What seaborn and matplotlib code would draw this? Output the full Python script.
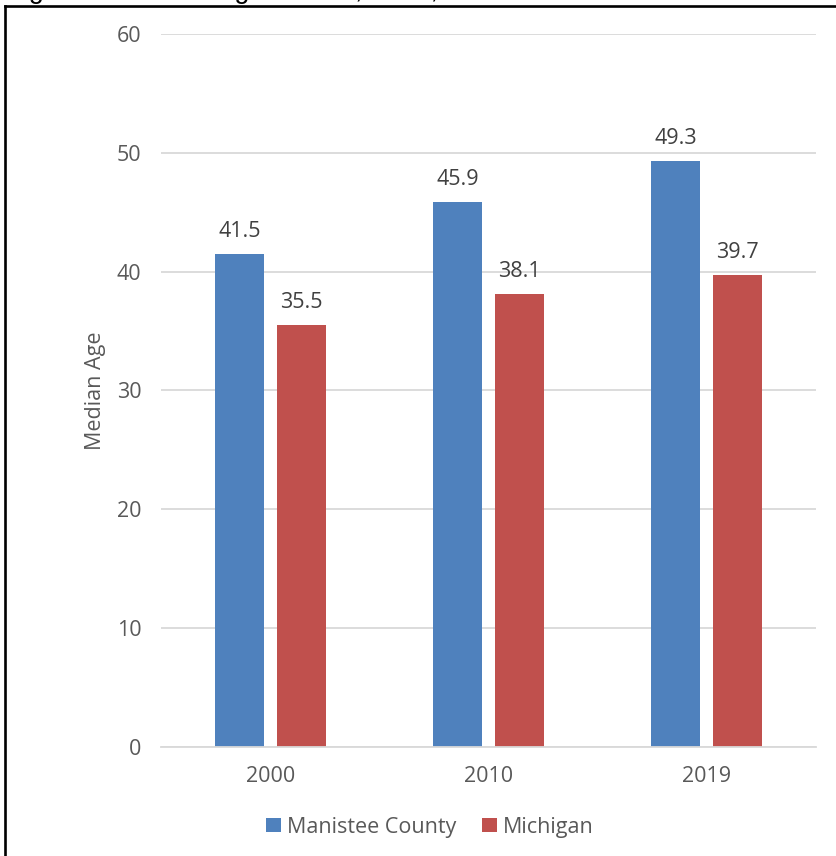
import matplotlib
matplotlib.use("Agg")
import matplotlib.pyplot as plt
from matplotlib.lines import Line2D
import seaborn as sns
import pandas as pd

# Median age by year
years = ["2000", "2010", "2019"]
manistee = [41.5, 45.9, 49.3]
michigan = [35.5, 38.1, 39.7]
series_names = ["Manistee County", "Michigan"]
y_ticks = [0, 10, 20, 30, 40, 50, 60]

df = pd.DataFrame({
    "Year": years * 2,
    "Area": [series_names[0]] * len(years) + [series_names[1]] * len(years),
    "Median Age": manistee + michigan,
})

sns.set_theme(style="white")
plt.rcParams["font.family"] = ["Open Sans", "DejaVu Sans"]

W, H = 837, 856
fig = plt.figure(figsize=(W / 100, H / 100), dpi=100)
ax = fig.add_axes([161.5 / W, 1 - 747 / H, 654.5 / W, 713 / H])

sns.barplot(
    data=df, x="Year", y="Median Age", hue="Area",
    order=years, hue_order=series_names,
    palette=["#4F81BD", "#C0504D"], saturation=1,
    width=0.568, gap=0.21, linewidth=0, ax=ax,
)

ax.set_ylim(0, 60)
ax.set_yticks(y_ticks)
ax.yaxis.grid(True, color="#D9D9D9", linewidth=1.3)
ax.set_axisbelow(True)
for side in ["top", "right", "left"]:
    ax.spines[side].set_visible(False)
ax.spines["bottom"].set_color("#D9D9D9")
ax.spines["bottom"].set_linewidth(1.3)

ax.tick_params(axis="x", length=0, pad=14, labelsize=15.5, labelcolor="#595959")
ax.tick_params(axis="y", length=0, pad=14.5, labelsize=15.5, labelcolor="#595959")
ax.set_xlabel("")
ax.set_ylabel("Median Age", fontsize=15.5, color="#595959", labelpad=8)

# Value labels above each bar
for container in ax.containers:
    ax.bar_label(container, fmt="%.1f", padding=8.5, fontsize=15.5, color="#404040")

handles, labels = ax.get_legend_handles_labels()
ax.get_legend().remove()
fig.legend(
    handles, labels, loc="center", bbox_to_anchor=(430 / W, 1 - 827 / H),
    ncol=2, frameon=False, fontsize=15.5, labelcolor="#595959",
    handlelength=0.69, handleheight=0.65, handletextpad=0.28, columnspacing=1.2,
)

# Frame around the chart (left and top edges)
fig.add_artist(Line2D([5 / W, 5 / W], [0, 1 - 5.5 / H], transform=fig.transFigure,
                      color="black", linewidth=1.9, solid_capstyle="projecting"))
fig.add_artist(Line2D([5 / W, 1], [1 - 5.5 / H, 1 - 5.5 / H], transform=fig.transFigure,
                      color="black", linewidth=1.9, solid_capstyle="projecting"))

# Caption sitting above the frame
fig.text(6 / W, 1 + 2.5 / H, "Figure 3: Median Age \u2013 2000, 2010, 2019",
         fontsize=19.5, family=["Liberation Sans", "DejaVu Sans"],
         ha="left", va="baseline", color="black")

fig.savefig("out.png", dpi=100)
